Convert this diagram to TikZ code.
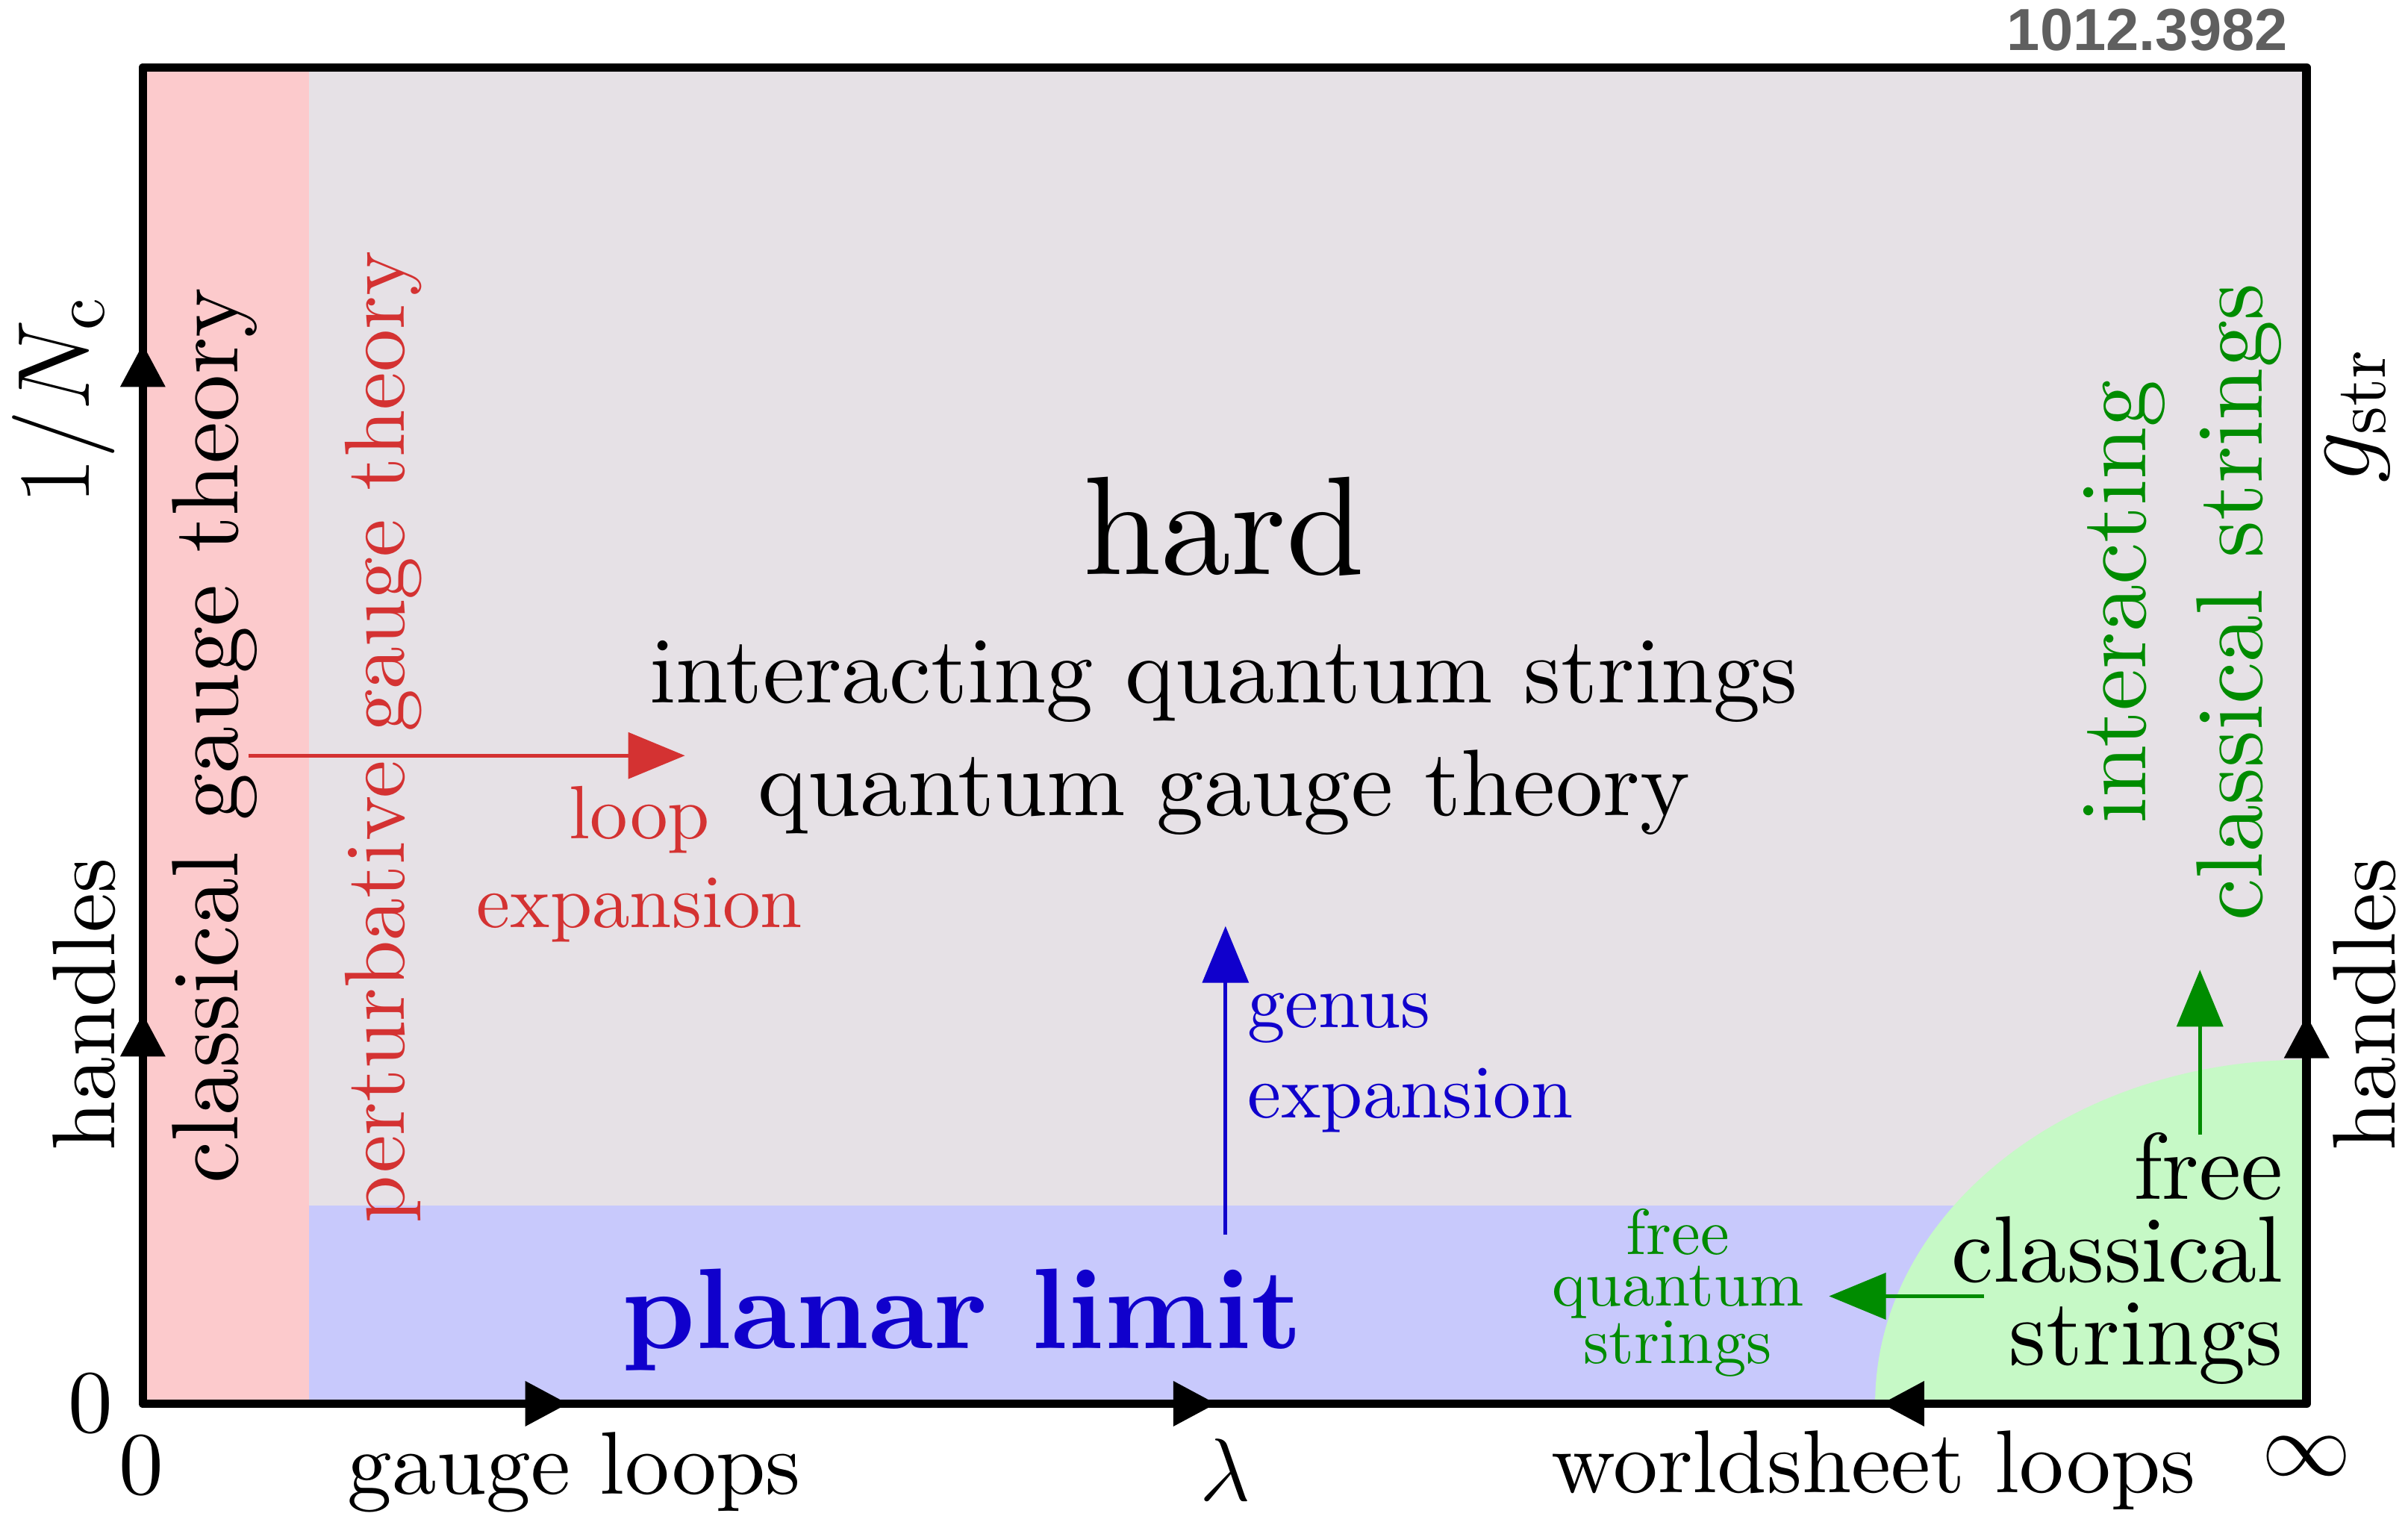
\RequirePackage{fix-cm}
\documentclass[tikz,border=0pt]{standalone}
\usepackage{fontspec}
\setmainfont{lmroman10-regular}[Extension=.otf, BoldFont=lmroman10-bold, ItalicFont=lmroman10-italic]
\newfontfamily\tagfont{Liberation Sans}
\usetikzlibrary{arrows.meta}
\definecolor{pinkfill}{HTML}{FCCACC}
\definecolor{hardfill}{HTML}{E6E1E6}
\definecolor{planarfill}{HTML}{C8C9FC}
\definecolor{freefill}{HTML}{C6F9C6}
\definecolor{loopred}{HTML}{D43232}
\definecolor{genusblue}{HTML}{1000CC}
\definecolor{stringgreen}{HTML}{008C00}
\definecolor{taggray}{HTML}{5F5F5F}
\newcommand{\fsmain}{\fontsize{35}{41.8}\selectfont}
\newcommand{\fsaxis}{\fontsize{33}{38}\selectfont}
\newcommand{\fscoupling}{\fontsize{38}{44}\selectfont}

\begin{document}
\begin{tikzpicture}[x=0.02cm, y=-0.02cm,
    txt/.style={inner sep=0pt, anchor=base},
    axisline/.style={line width=3.2pt, line join=round},
    axistip/.style={line width=3.2pt, -{Triangle[length=0.56cm, width=0.56cm]}},
    flow/.style={line width=1.3pt, -{Triangle[length=0.74cm, width=0.6cm]}}]
    \useasboundingbox (0,0) rectangle (1568,994.5);

    % regions
    \fill[hardfill] (93,44) rectangle (1502,914);
    \fill[pinkfill] (93,44) rectangle (201,914);
    \fill[planarfill] (201,785) rectangle (1502,914);
    \fill[freefill] (1221,914) arc[start angle=180, end angle=270, x radius=281, y radius=224] -- (1502,914) -- cycle;

    % frame and axis tips
    \draw[axisline] (93,44) rectangle (1502,914);
    \draw[axistip] (93,262) -- (93,224);
    \draw[axistip] (93,698) -- (93,660);
    \draw[axistip] (1502,699) -- (1502,661);
    \draw[axistip] (332,914) -- (370,914);
    \draw[axistip] (754,914) -- (792,914);
    \draw[axistip] (1263,914) -- (1225,914);

    % axis labels
    \node[txt, font=\fscoupling, rotate=90] (nc) at (58,261) {$1/N_{\mathrm{c}}$};
    \node[txt, font=\fsaxis, rotate=90] (handlesl) at (74.6,654) {handles};
    \node[txt, font=\fscoupling, rotate=90] (gstr) at (1543,271) {$g_{\mathrm{str}}$};
    \node[txt, font=\fsaxis, rotate=90] (handlesr) at (1559.5,654) {handles};
    \node[inner sep=0pt, font=\fsaxis] (zeroy) at (59,914) {0};
    \node[inner sep=0pt, font=\fsaxis] (zerox) at (92,954) {0};
    \node[txt, font=\fsaxis] (gloops) at (374,973) {gauge loops};
    \node[txt, font=\fsaxis] (lam) at (798,977) {$\lambda$};
    \node[txt, font=\fsaxis] (wloops) at (1220,972) {worldsheet loops};
    \node[txt, font=\fsaxis] (infty) at (1502,960.6) {$\infty$};
    \node[txt, anchor=base east, text=taggray, font={\tagfont\bfseries\fontsize{22}{26}\selectfont}] (tag) at (1490,33) {1012.3982};

    % region labels (multi-line nodes sit on their last baseline)
    \node[txt, font={\fontsize{52}{60}\selectfont}] (hard) at (797,374) {hard};
    \node[txt, font=\fsmain, align=center] (quantum) at (797,531) {interacting quantum strings\\quantum gauge theory};
    \node[txt, font=\fsmain, rotate=90] (cgt) at (155,479) {classical gauge theory};
    \node[txt, text=loopred, font={\fontsize{31.6}{36}\selectfont}, rotate=90] (pgt) at (263,480) {perturbative gauge theory};
    \node[txt, text=stringgreen, font={\fontsize{35}{43.2}\selectfont}, rotate=90, align=center] (ics) at (1473,392) {interacting\\classical strings};
    \node[txt, text=genusblue, font={\bfseries\fontsize{42.5}{48}\selectfont}] (planar) at (626.5,878) {planar limit};
    \node[txt, text=stringgreen, font={\fontsize{24}{19}\selectfont}, align=center] (fqs) at (1092.5,888) {free\\quantum\\strings};
    \node[txt, anchor=base east, font={\fontsize{35}{30.7}\selectfont}, align=right] (fcs) at (1487,888.5) {free\\classical\\strings};
    \node[txt, text=loopred, font={\fontsize{28}{33}\selectfont}, align=center] (loop) at (416.5,604) {loop\\expansion};
    \node[txt, anchor=base west, text=genusblue, font={\fontsize{28}{33.6}\selectfont}, align=left] (genus) at (812,728) {genus\\expansion};

    % expansions
    \coordinate (loopfrom) at (162,492);
    \coordinate (loopto) at (446,492);
    \coordinate (genusfrom) at (798,804);
    \coordinate (genusto) at (798,603);
    \coordinate (freefrom) at (1292,844);
    \coordinate (freeto) at (1191,844);
    \coordinate (handlefrom) at (1432.5,739);
    \coordinate (handleto) at (1432.5,631.5);
    \draw[flow, loopred] (loopfrom) -- (loopto);
    \draw[flow, genusblue] (genusfrom) -- (genusto);
    \draw[flow, stringgreen] (freefrom) -- (freeto);
    \draw[flow, stringgreen] (handlefrom) -- (handleto);
\end{tikzpicture}
\end{document}
